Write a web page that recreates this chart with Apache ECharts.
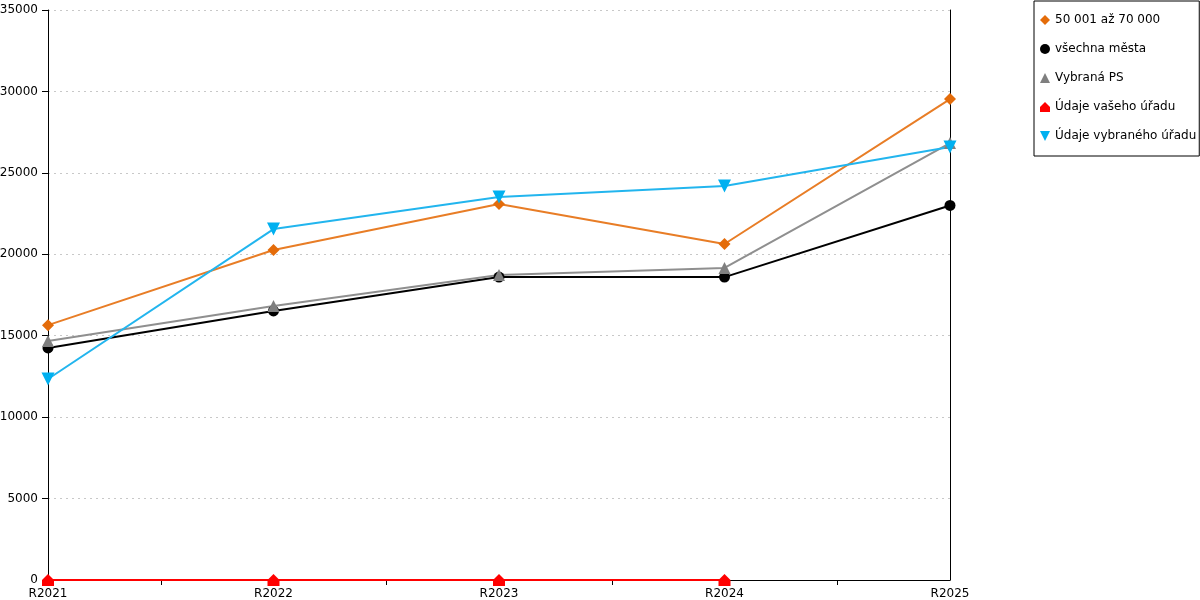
<!DOCTYPE html>
<html><head><meta charset="utf-8">
<script src="https://cdn.jsdelivr.net/npm/echarts@6/dist/echarts.min.js"></script>
<style>html,body{margin:0;padding:0;background:#fff}#c{width:1200px;height:600px}</style>
</head><body><div id="c"></div>
<script>
const categories = ['R2021','R2022','R2023','R2024','R2025'];
const seriesNames = ['50 001 až 70 000','všechna města','Vybraná PS','Údaje vašeho úřadu','Údaje vybraného úřadu'];
const orangeVals = [15650, 20260, 23090, 20630, 29530];
const blackVals = [14250, 16520, 18600, 18600, 23000];
const grayVals = [14680, 16820, 18730, 19160, 26830];
const redVals = [0, 0, 0, 0, null];
const blueVals = [12340, 21550, 23520, 24190, 26590];
const yTicks = [0, 5000, 10000, 15000, 20000, 25000, 30000, 35000];

const houseSymbol = 'path://M5,0 L10,5 L10,10 L0,10 L0,5 Z';
const downTri = 'path://M0,0 L10,0 L5,10 Z';
const font = 'DejaVu Sans';
const chart = echarts.init(document.getElementById('c'));
const halfTicks = [];
for (let i = 0; i < categories.length * 2 - 1; i++) halfTicks.push('t' + i);

function mk(name, data, color, symbol, size, lineColor) {
  return {
    name, type: 'line', data, symbol, symbolSize: size,
    showSymbol: true, connectNulls: false,
    itemStyle: { color },
    lineStyle: { color: lineColor || color, width: 2 },
    emphasis: { disabled: true }, animation: false, z: 3
  };
}

chart.setOption({
  animation: false,
  textStyle: { fontFamily: font },
  grid: { left: 48, right: 250, top: 10, bottom: 20, containLabel: false, outerBoundsMode: 'none' },
  legend: {
    orient: 'vertical', left: 1034, top: 1,
    padding: [13, 3, 14, 6],
    itemGap: 17, itemWidth: 10, itemHeight: 10,
    borderColor: '#000', borderWidth: 1,
    textStyle: { fontFamily: font, fontSize: 12, color: '#000' },
    data: seriesNames.map((n, i) => ({ name: n, icon: ['diamond','circle','triangle',houseSymbol,downTri][i] }))
  },
  xAxis: [{
    type: 'category', data: categories, boundaryGap: false,
    axisLine: { lineStyle: { color: '#000', width: 1 } },
    axisTick: { show: false },
    axisLabel: { fontFamily: font, fontSize: 12, color: '#000', margin: 8 },
    splitLine: { show: false }
  }, {
    type: 'category', data: halfTicks, boundaryGap: false, position: 'bottom',
    axisLine: { show: false },
    axisTick: { show: true, length: 5, inside: false, lineStyle: { color: '#000' }, interval: (i) => i % 2 === 1 },
    axisLabel: { show: false }, splitLine: { show: false }
  }],
  yAxis: [{
    type: 'value', min: 0, max: 35000, interval: 5000,
    axisLine: { show: true, lineStyle: { color: '#000' } },
    axisTick: { show: true, length: 6, lineStyle: { color: '#000' } },
    axisLabel: { fontFamily: font, fontSize: 12, color: '#000', margin: 10,
      formatter: (v) => yTicks.includes(v) ? String(v) : '' },
    splitLine: { show: true, lineStyle: { color: '#c8c8c8', type: [2, 4] } }
  }, {
    type: 'value', min: 0, max: 35000, interval: 5000, position: 'right',
    axisLine: { show: true, lineStyle: { color: '#000' } },
    axisTick: { show: false }, axisLabel: { show: false }, splitLine: { show: false }
  }],
  series: [
    mk(seriesNames[0], orangeVals, '#e46c0a', 'diamond', 12, '#e87d26'),
    mk(seriesNames[1], blackVals, '#000000', 'circle', 11),
    mk(seriesNames[2], grayVals, '#7f7f7f', 'triangle', 12, '#8f8f8f'),
    mk(seriesNames[4], blueVals, '#00b0f0', downTri, 13, '#22b5ee'),
    Object.assign(mk(seriesNames[3], redVals, '#ff0000', houseSymbol, 12), { z: 4 })
  ]
});
</script></body></html>
